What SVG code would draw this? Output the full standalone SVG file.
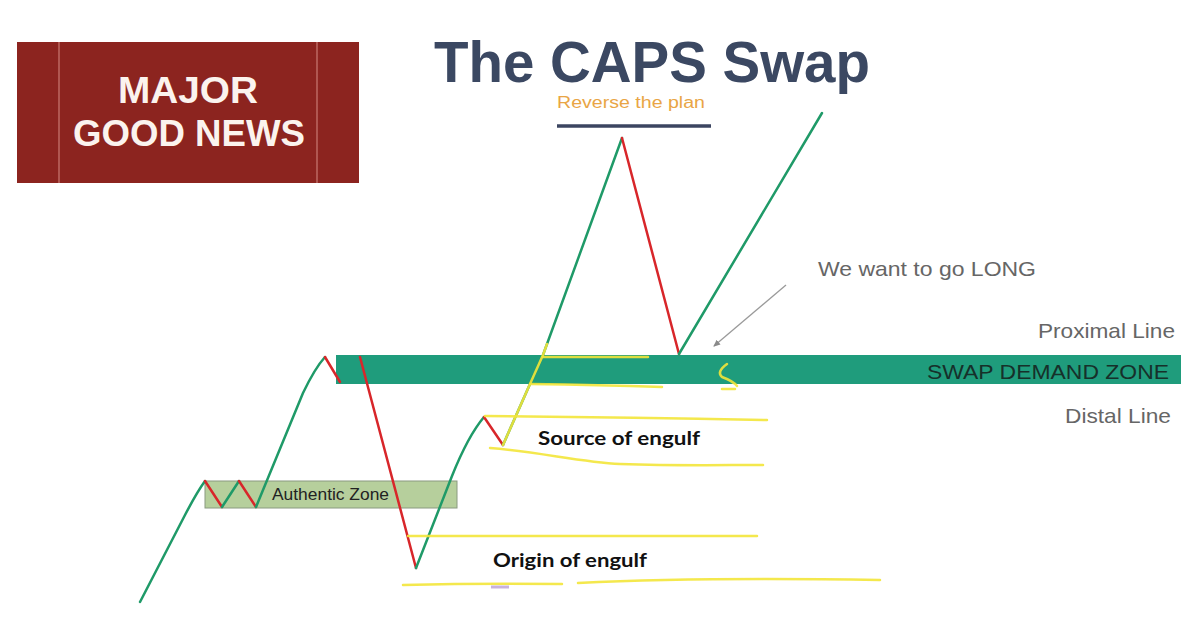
<svg xmlns="http://www.w3.org/2000/svg" width="1198" height="632" viewBox="0 0 1198 632">
<defs>
<style>
.g{fill:none;stroke:#1f9a68;stroke-width:2.5;stroke-linejoin:round;stroke-linecap:round}
.r{fill:none;stroke:#d8262a;stroke-width:2.5;stroke-linejoin:round;stroke-linecap:round}
.y{fill:none;stroke:#f3e53a;stroke-width:2.5;stroke-linecap:round;opacity:0.9}
.lbl{font-family:"Liberation Sans",Arial,sans-serif;fill:#666}
.bold{font-family:Lato,"Liberation Sans",sans-serif;font-weight:bold;fill:#111}
</style>
<marker id="ah" markerWidth="8" markerHeight="8" refX="6" refY="4" orient="auto" markerUnits="userSpaceOnUse">
<path d="M0,1 L7,4 L0,7 z" fill="#8a8a8a"/>
</marker>
</defs>
<rect width="1198" height="632" fill="#ffffff"/>

<g id="news-box">
<rect x="17" y="42" width="342" height="141" fill="#8c241f"/>
<line x1="59" y1="42" x2="59" y2="183" stroke="#c97a72" stroke-width="1.2"/>
<line x1="317" y1="42" x2="317" y2="183" stroke="#c97a72" stroke-width="1.2"/>
<text x="188" y="103" text-anchor="middle" font-family="Liberation Sans,Arial,sans-serif" font-weight="bold" font-size="36" fill="#fbf3ee" textLength="140" lengthAdjust="spacingAndGlyphs">MAJOR</text>
<text x="189" y="146" text-anchor="middle" font-family="Liberation Sans,Arial,sans-serif" font-weight="bold" font-size="36" fill="#fbf3ee" textLength="232" lengthAdjust="spacingAndGlyphs">GOOD NEWS</text>
</g>

<g id="title">
<text x="434" y="82" font-family="Liberation Sans,Arial,sans-serif" font-weight="bold" font-size="58" fill="#3b4862" textLength="436" lengthAdjust="spacingAndGlyphs">The CAPS Swap</text>
</g>

<g id="reverse-label">
<text x="557" y="108" font-family="Liberation Sans,Arial,sans-serif" font-size="16" fill="#e9a545" textLength="148" lengthAdjust="spacingAndGlyphs">Reverse the plan</text>
<line x1="557" y1="126" x2="711" y2="126" stroke="#3b4560" stroke-width="3.5"/>
</g>

<g id="swap-demand-zone">
<rect x="336" y="355" width="845" height="29" fill="#1f9c7c"/>
<text x="927" y="379" font-family="Liberation Sans,Arial,sans-serif" font-size="20" fill="#16302a" textLength="242" lengthAdjust="spacingAndGlyphs">SWAP DEMAND ZONE</text>
</g>

<g id="authentic-zone">
<rect x="205" y="481" width="252" height="27" fill="#b6cf9c" stroke="#8a9a80" stroke-width="1"/>
<text x="272" y="500" font-family="Liberation Sans,Arial,sans-serif" font-size="16" fill="#222" textLength="117" lengthAdjust="spacingAndGlyphs">Authentic Zone</text>
</g>

<g id="labels">
<text class="lbl" x="818" y="276" font-size="21" textLength="218" lengthAdjust="spacingAndGlyphs">We want to go LONG</text>
<text class="lbl" x="1038" y="338" font-size="21" textLength="137" lengthAdjust="spacingAndGlyphs">Proximal Line</text>
<text class="lbl" x="1065" y="423" font-size="21" textLength="106" lengthAdjust="spacingAndGlyphs">Distal Line</text>
<text class="bold" x="538" y="445" font-size="19" textLength="162" lengthAdjust="spacingAndGlyphs">Source of engulf</text>
<text class="bold" x="493" y="567" font-size="19" textLength="154" lengthAdjust="spacingAndGlyphs">Origin of engulf</text>
</g>

<g id="connectors">
<!-- price path -->
<path class="g" d="M140,602 L185,515 Q197,492 205,481"/>
<path class="r" d="M205,481 L222,507"/>
<path class="g" d="M222,507 L239,481"/>
<path class="r" d="M239,481 L256,507"/>
<path class="g" d="M256,507 L303,393 Q315,368 325,357"/>
<path class="r" d="M325,357 L340,382"/>
<path class="r" d="M360,357 L416,568"/>
<path class="g" d="M416,568 L452,476 Q468,436 484,417"/>
<path class="r" d="M484,417 L503,445"/>
<path class="g" d="M503,445 L530,384 L543,355 L622,138"/>
<path class="r" d="M622,138 L679,354"/>
<path class="g" d="M679,354 L822,113"/>
<!-- yellow highlights -->
<path class="y" d="M503,445 L530,384 L543,355 L547,344"/>
<path class="y" d="M543,357 L648,357"/>
<path class="y" d="M530,384 Q600,385 662,387"/>
<path class="y" d="M485,416 Q620,417 767,420"/>
<path class="y" d="M490,448 C540,452 580,462 620,464 C680,466 720,465 763,465"/>
<path class="y" d="M408,536 L757,536"/>
<path class="y" d="M403,585 Q480,583 562,584"/>
<path class="y" d="M578,583 Q700,577 880,580"/>
<path class="y" d="M727,364 Q716,372 722,377 Q733,381 737,386 M722,389 L735,389"/>
<line x1="491" y1="587" x2="509" y2="587" stroke="#c9b3dc" stroke-width="3"/>
<!-- pointer arrow -->
<line x1="786" y1="285" x2="714" y2="346" stroke="#9a9a9a" stroke-width="1.3" marker-end="url(#ah)"/>
</g>
</svg>
